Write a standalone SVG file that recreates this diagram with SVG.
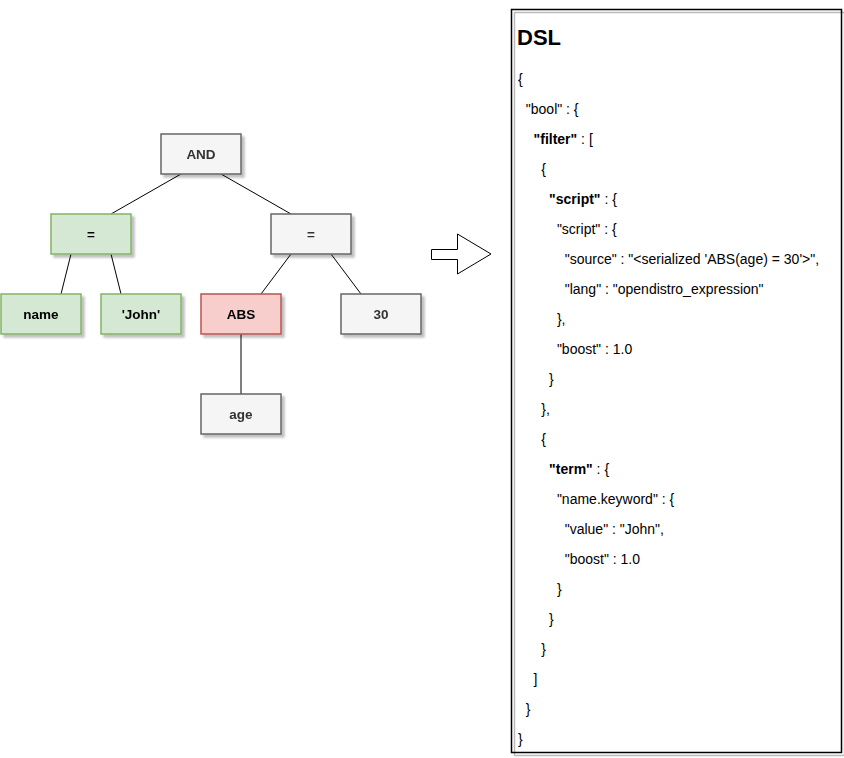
<svg xmlns="http://www.w3.org/2000/svg" width="844" height="758" viewBox="0 0 844 758">
<defs>
<filter id="sh" x="-10%" y="-10%" width="130%" height="140%">
<feGaussianBlur in="SourceAlpha" stdDeviation="0.8"/>
<feOffset dx="3" dy="3" result="b"/>
<feComponentTransfer><feFuncA type="linear" slope="0.25"/></feComponentTransfer>
<feMerge><feMergeNode/><feMergeNode in="SourceGraphic"/></feMerge>
</filter>
<style>
.gray rect{fill:#f5f5f5;stroke:#666666;stroke-width:1.5}
.gray text{fill:#333333}
.green rect{fill:#d5e8d4;stroke:#82b366;stroke-width:1.5}
.red rect{fill:#f8cecc;stroke:#b85450;stroke-width:1.5}
.node text{font-family:"Liberation Sans",Arial,sans-serif;font-weight:bold;font-size:13.5px;text-anchor:middle}
.green text,.red text{fill:#000000}
.edge line{stroke:#000000;stroke-width:1}
.code{font-family:"Liberation Sans",Arial,sans-serif;font-size:14px;fill:#000000}
.b{font-weight:bold}
</style>
</defs>
<rect width="844" height="758" fill="#ffffff"/>
<g id="connectors" class="edge">
<line x1="181" y1="174" x2="111" y2="214"/>
<line x1="221" y1="174" x2="291" y2="214"/>
<line x1="71" y1="254" x2="61" y2="294"/>
<line x1="111" y1="254" x2="121" y2="294"/>
<line x1="291" y1="254" x2="261" y2="294"/>
<line x1="331" y1="254" x2="361" y2="294"/>
<line x1="241" y1="334" x2="241" y2="394"/>
</g>
<g id="n-and" class="node gray" filter="url(#sh)"><rect x="161" y="134" width="80" height="40"/><text x="201" y="159">AND</text></g>
<g id="n-eq1" class="node green" filter="url(#sh)"><rect x="51" y="214" width="80" height="40"/><text x="91" y="239">=</text></g>
<g id="n-eq2" class="node gray" filter="url(#sh)"><rect x="271" y="214" width="80" height="40"/><text x="311" y="239">=</text></g>
<g id="n-name" class="node green" filter="url(#sh)"><rect x="1" y="294" width="80" height="40"/><text x="41" y="319">name</text></g>
<g id="n-john" class="node green" filter="url(#sh)"><rect x="101" y="294" width="80" height="40"/><text x="141" y="319">'John'</text></g>
<g id="n-abs" class="node red" filter="url(#sh)"><rect x="201" y="294" width="80" height="40"/><text x="241" y="319">ABS</text></g>
<g id="n-30" class="node gray" filter="url(#sh)"><rect x="341" y="294" width="80" height="40"/><text x="381" y="319">30</text></g>
<g id="n-age" class="node gray" filter="url(#sh)"><rect x="201" y="394" width="80" height="40"/><text x="241" y="419">age</text></g>
<g id="arrow">
<polygon points="431.5,249.5 457.5,249.5 457.5,234 491,254 457.5,274 457.5,259.5 431.5,259.5" fill="#ffffff" stroke="#000000" stroke-width="1"/>
</g>
<g id="dsl">
<rect x="514.5" y="12.5" width="330" height="743" fill="none" stroke="#bbbbbb" stroke-width="1.5"/>
<rect x="511.5" y="9.5" width="330" height="743" fill="none" stroke="#000000" stroke-width="1.5"/>
<text x="517" y="45" font-family="'Liberation Sans',Arial,sans-serif" font-size="22" font-weight="bold" fill="#000000">DSL</text>
<g class="code">
<text x="518" y="84">{</text>
<text x="525.8" y="114">"bool" : {</text>
<text x="533.6" y="144"><tspan class="b">"filter"</tspan> : [</text>
<text x="541.3" y="174">{</text>
<text x="549.1" y="204"><tspan class="b">"script"</tspan> : {</text>
<text x="556.9" y="234">"script" : {</text>
<text x="564.7" y="264">"source" : "&lt;serialized 'ABS(age) = 30'&gt;",</text>
<text x="564.7" y="294">"lang" : "opendistro_expression"</text>
<text x="556.9" y="324">},</text>
<text x="556.9" y="354">"boost" : 1.0</text>
<text x="549.1" y="384">}</text>
<text x="541.3" y="414">},</text>
<text x="541.3" y="444">{</text>
<text x="549.1" y="474"><tspan class="b">"term"</tspan> : {</text>
<text x="556.9" y="504">"name.keyword" : {</text>
<text x="564.7" y="534">"value" : "John",</text>
<text x="564.7" y="564">"boost" : 1.0</text>
<text x="556.9" y="594">}</text>
<text x="549.1" y="624">}</text>
<text x="541.3" y="654">}</text>
<text x="533.6" y="684">]</text>
<text x="525.8" y="714">}</text>
<text x="518" y="744">}</text>
</g>
</g>
</svg>
